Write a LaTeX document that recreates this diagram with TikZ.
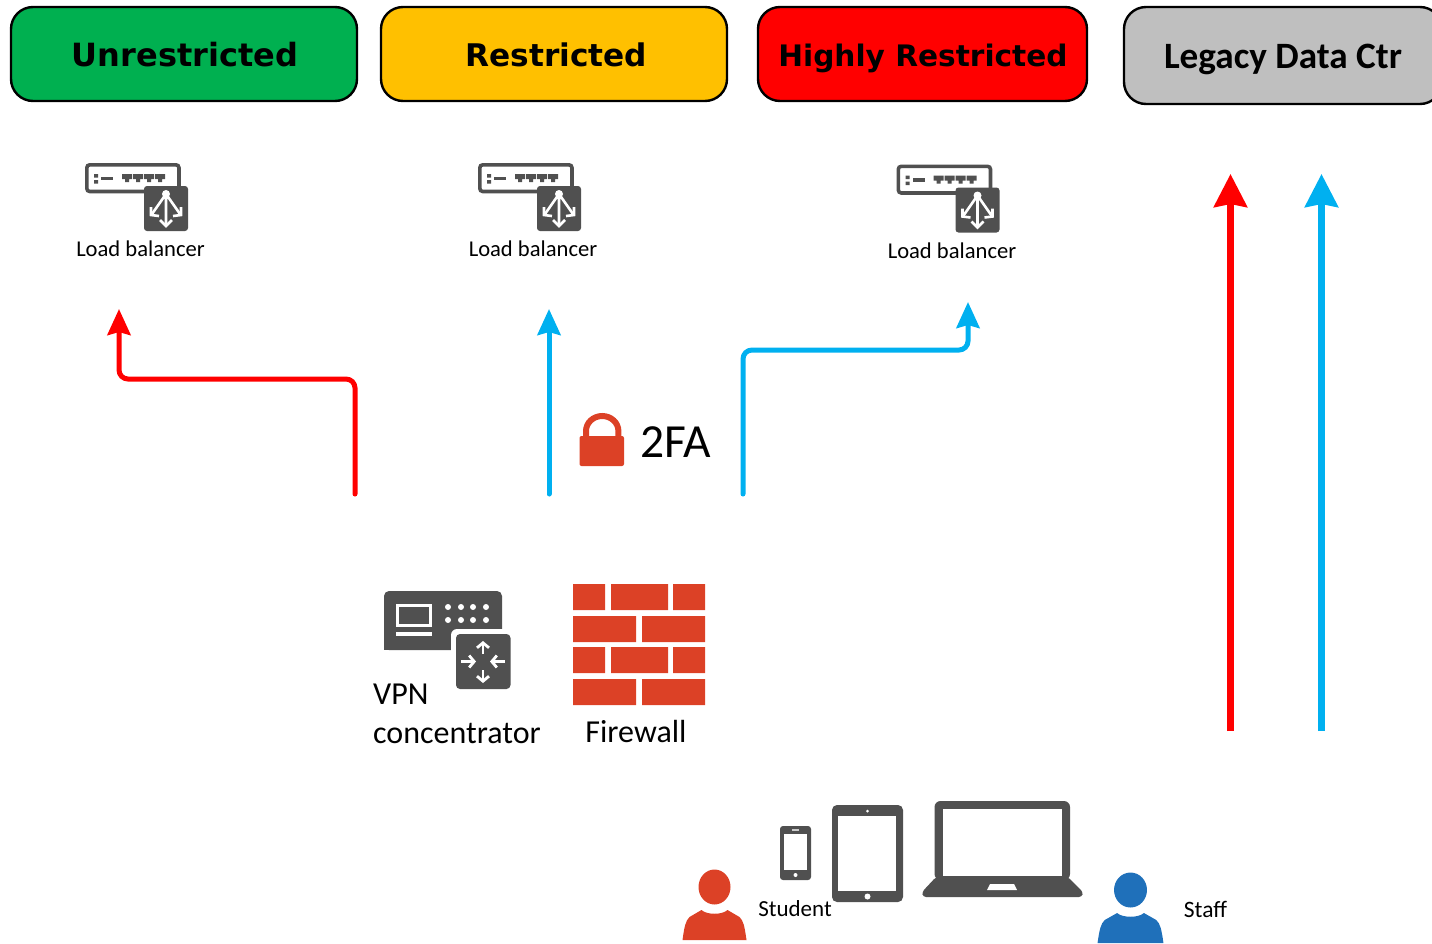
\documentclass[tikz,border=0pt]{standalone}
\usepackage{fontspec}
\setmainfont{Carlito}
\newfontfamily\wide{DejaVu Sans}
\usetikzlibrary{arrows.meta}
\definecolor{icongray}{HTML}{505050}
\definecolor{brick}{HTML}{DC4126}
\definecolor{staffblue}{HTML}{1F70BA}
\definecolor{cyanline}{HTML}{00B0F0}
\definecolor{zgreen}{HTML}{00B050}
\definecolor{zamber}{HTML}{FFC000}
\definecolor{zgray}{HTML}{BFBFBF}
\tikzset{
  x=1pt,y=-1pt,
  zone/.style={draw=black,line width=2.4pt,rounded corners=22pt,minimum height=94pt,inner sep=0pt,anchor=center},
  ztitle/.style={font=\wide\bfseries\fontsize{32}{34}\selectfont,text=black,inner sep=0pt,anchor=base},
  label/.style={inner sep=0pt,text=black},
  flow/.style={line width=5pt,line cap=round,rounded corners=9pt,-{Stealth[length=26pt,width=23pt,inset=3pt]}},
  bigflow/.style={line width=6.5pt,-{Stealth[length=33pt,width=33pt,inset=3pt]}},
  lbicon/.pic={
    \draw[icongray,line width=3.6pt,rounded corners=3pt] (60,28.5) -- (1.8,28.5) -- (1.8,1.8) -- (94,1.8) -- (94,26);
    \fill[icongray] (9,11) rectangle (13,14.5) (9,17) rectangle (13,20.5);
    \fill[icongray] (16,13.5) rectangle (28,17);
    \foreach \p in {37,48,59,70}{\fill[icongray] (\p,11) -- (\p+10,11) -- (\p+10,16) -- (\p+7,16) -- (\p+7,19) -- (\p+3,19) -- (\p+3,16) -- (\p,16) -- cycle;}
    \fill[icongray,rounded corners=3pt] (59,23) rectangle (103,68);
    \fill[white] (81,31) circle (4);
    \draw[white,line width=2.6pt] (81,31) -- (81,62) (81,31) -- (67,51) (81,31) -- (95,51);
    \draw[white,line width=2.6pt,line join=miter] (75,57) -- (81,63) -- (87,57) (66,44) -- (66,52) -- (74,53) (96,44) -- (96,52) -- (88,53);
  },
  person/.pic={
    \fill[pic actions] (0,-25) ellipse [x radius=16,y radius=17.5];
    \fill[pic actions] (-32,28) .. controls (-30,14) and (-29,9) .. (-25,5) -- (-13,-2) .. controls (-8,3) and (8,3) .. (13,-2) -- (25,5) .. controls (29,9) and (30,14) .. (32,28) -- cycle;
  },
}
\begin{document}
\begin{tikzpicture}
\useasboundingbox (0,0) rectangle (1432,943);
% zone headers
\node[zone,fill=zgreen,minimum width=346pt] (unres) at (184,54) {};
\node[ztitle] (unrestxt) at (185,66) {Unrestricted};
\node[zone,fill=zamber,minimum width=346pt] (res) at (554,54) {};
\node[ztitle,font=\wide\bfseries\fontsize{31.2}{34}\selectfont] (restxt) at (556.5,66) {Restricted};
\node[zone,fill=red,minimum width=329pt] (high) at (922.5,54) {};
\node[ztitle,font=\wide\bfseries\fontsize{29.6}{34}\selectfont] (hightxt) at (923,66) {Highly Restricted};
\node[zone,fill=zgray,minimum width=318pt,minimum height=97pt] (legacy) at (1283,55.5) {};
\node[label,anchor=base,font=\bfseries\fontsize{37.2}{40}\selectfont] (legtxt) at (1283,68) {Legacy Data Ctr};
% load balancers
\pic at (85,163) {lbicon};
\pic at (478,163) {lbicon};
\pic at (896.5,164.5) {lbicon};
\node[label,font=\fontsize{22.6}{26}\selectfont] (lb1) at (140.5,249) {Load balancer};
\node[label,font=\fontsize{22.6}{26}\selectfont] (lb2) at (533,249) {Load balancer};
\node[label,font=\fontsize{22.6}{26}\selectfont] (lb3) at (952,251) {Load balancer};
% connectors
\coordinate (r0) at (355,494); \coordinate (r1) at (119,309);
\coordinate (b0) at (549,494); \coordinate (b1) at (549,309);
\coordinate (c0) at (743,494); \coordinate (c1) at (968,302);
\coordinate (d0) at (1230.5,731); \coordinate (d1) at (1230.5,174);
\coordinate (e0) at (1321.5,731); \coordinate (e1) at (1321.5,174);
\draw[flow,red] (r0) -- (r0 |- 0,379) -- (r1 |- 0,379) -- (r1);
\draw[flow,cyanline] (b0) -- (b1);
\draw[flow,cyanline] (c0) -- (c0 |- 0,350) -- (c1 |- 0,350) -- (c1);
\draw[bigflow,red] (d0) -- (d1);
\draw[bigflow,cyanline] (e0) -- (e1);
% lock
\draw[brick,line width=6pt] (586,438) -- (586,431) arc[start angle=180,end angle=0,x radius=16.2,y radius=-15] -- (618.4,438);
\fill[brick,rounded corners=2pt] (579.5,436) rectangle (624,466);
\node[label,font=\fontsize{47.5}{50}\selectfont] (tfa) at (676,442) {2FA};
% VPN
\fill[icongray,rounded corners=5pt] (384,650) -- (384,591) -- (502,591) -- (502,650) -- cycle;
\fill[icongray] (384,640) rectangle (400,650);
\draw[white,line width=3pt] (397.5,605.5) rectangle (430.5,625);
\fill[white] (396,632) rectangle (432,636);
\foreach \xx in {448,461,473,486}{\fill[white] (\xx,607) circle (3); \fill[white] (\xx,620) circle (3);}
\fill[white,rounded corners=6pt] (451,629) rectangle (520,700);
\fill[icongray,rounded corners=4pt] (456,634) rectangle (510.5,689);
\draw[white,line width=2.8pt,-{Straight Barb[length=5pt,width=12pt]}] (483,654) -- (483,641);
\draw[white,line width=2.8pt,-{Straight Barb[length=5pt,width=12pt]}] (483,670) -- (483,683);
\draw[white,line width=2.8pt,-{Straight Barb[length=5pt,width=12pt]}] (461,661.5) -- (476,661.5);
\draw[white,line width=2.8pt,-{Straight Barb[length=5pt,width=12pt]}] (505,661.5) -- (490,661.5);
\node[label,anchor=west,font=\fontsize{32}{34}\selectfont] (vpn1) at (373,694) {VPN};
\node[label,anchor=west,font=\fontsize{32}{34}\selectfont] (vpn2) at (373,733) {concentrator};
% firewall
\fill[brick] (573,584) rectangle (605,610) (611,584) rectangle (668,610) (673,584) rectangle (705,610);
\fill[brick] (573,616) rectangle (636,642) (642,616) rectangle (705,642);
\fill[brick] (573,647) rectangle (605,673) (611,647) rectangle (668,673) (673,647) rectangle (705,673);
\fill[brick] (573,679) rectangle (636,705) (642,679) rectangle (705,705);
\node[label,font=\fontsize{32}{34}\selectfont] (fw) at (636,731) {Firewall};
% devices
\fill[icongray,rounded corners=3pt] (780,826) rectangle (811,880);
\fill[white] (784,834) rectangle (807,870);
\fill[white!70!icongray] (792,829) rectangle (799,830.5);
\fill[white] (795.5,875) circle (2);
\fill[icongray,rounded corners=5pt] (832,805) rectangle (903,902);
\fill[white] (838,816) rectangle (896,891);
\fill[white] (867.5,811) circle (1.5);
\fill[white] (867.5,896.5) circle (3);
\fill[icongray,rounded corners=6pt] (934.5,880) -- (934.5,801) -- (1070,801) -- (1070,880) -- cycle;
\fill[icongray,rounded corners=3pt] (936,877) -- (922,892) -- (923,897) -- (1082,897) -- (1083,892) -- (1068,877) -- cycle;
\fill[white] (942.5,809) rectangle (1062,876);
\fill[white] (990,884) -- (1014,884) -- (1017,890) -- (987,890) -- cycle;
% people
\pic[brick] at (714.5,912) {person};
\node[label,font=\fontsize{23}{26}\selectfont] (stu) at (795,909) {Student};
\pic[staffblue,xscale=1.03] at (1130.5,915) {person};
\node[label,font=\fontsize{23.5}{26}\selectfont] (sta) at (1205.5,909) {Staff};
\end{tikzpicture}
\end{document}
